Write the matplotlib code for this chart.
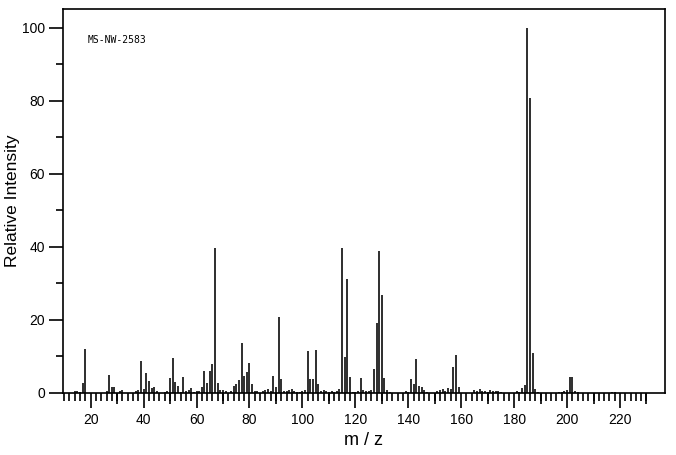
import matplotlib
matplotlib.use("Agg")
import matplotlib.pyplot as plt
import numpy as np

mz = [14, 15, 16, 17, 18, 26, 27, 28, 29, 31, 32, 37, 38, 39, 40, 41, 42, 43, 44, 45,
      48, 49, 50, 51, 52, 53, 54, 55, 56, 57, 58, 59, 60, 61, 62, 63, 64, 65, 66, 67,
      68, 69, 70, 71, 73, 74, 75, 76, 77, 78, 79, 80, 81, 82, 83,
      85, 86, 87, 88, 89, 90, 91, 92, 93, 94, 95, 96, 97, 98, 99, 100, 101, 102, 103,
      104, 105, 106, 107, 108, 109, 110, 111, 112, 113, 114, 115, 116, 117, 118, 119,
      120, 121, 122, 123, 124, 125, 126, 127, 128, 129, 130, 131, 132, 133,
      139, 140, 141, 142, 143, 144, 145, 146, 147, 151, 152, 153, 154, 155, 156, 157,
      158, 159, 165, 166, 167, 168, 169, 170, 171, 172, 173, 174, 175, 181, 182, 183,
      184, 185, 186, 187, 188, 189, 197, 198, 199, 200, 201, 202, 203, 204, 217, 218]
intensity = [0.5, 0.5, 0.4, 2.7, 12.0, 0.5, 4.8, 1.6, 1.6, 0.5, 0.7, 0.5, 0.9, 8.7, 1.0, 5.5, 3.2, 1.3, 1.6, 0.5,
             0.4, 0.5, 4.1, 9.6, 3.0, 1.9, 0.3, 4.4, 0.5, 0.7, 1.5, 0.3, 0.5, 0.5, 1.6, 6.0, 2.7, 6.0, 7.9, 39.6,
             2.7, 0.7, 0.7, 0.5, 0.5, 1.8, 2.4, 3.5, 13.7, 4.7, 5.8, 8.2, 2.4, 0.5, 0.5,
             0.5, 0.7, 1.0, 0.5, 4.6, 1.6, 20.8, 3.7, 0.5, 0.5, 0.7, 1.0, 0.5, 0.3, 0.3, 0.5, 0.7, 11.5, 3.7,
             3.7, 11.7, 2.4, 0.5, 0.7, 0.5, 0.3, 0.5, 0.3, 0.5, 1.0, 39.7, 9.9, 31.2, 4.3, 0.3,
             0.3, 0.5, 4.0, 0.7, 0.5, 0.5, 0.7, 6.5, 19.2, 38.9, 26.8, 4.0, 0.7, 0.3,
             0.5, 0.3, 3.7, 2.6, 9.2, 1.8, 1.6, 0.7, 0.3, 0.5, 0.7, 1.0, 0.5, 1.3, 1.0, 7.0,
             10.3, 1.6, 0.7, 0.5, 1.0, 0.5, 0.5, 0.3, 0.7, 0.5, 0.5, 0.5, 0.3, 0.5, 0.3, 1.3,
             2.1, 100.0, 80.8, 10.9, 1.0, 0.3, 0.3, 0.3, 0.5, 0.7, 4.3, 4.3, 0.5, 0.3, 0.3, 0.3]

x_major = list(range(20, 221, 20))
x_medium = list(range(30, 231, 20))
x_minor = list(range(10, 231, 2))
y_major = list(range(0, 101, 20))
y_minor = list(range(10, 100, 20))

plt.rcParams["font.family"] = ["Liberation Sans", "DejaVu Sans"]

fig = plt.figure(figsize=(6.76, 4.55), dpi=100)
ax = fig.add_axes([63 / 676, 1 - 393 / 455, (665 - 63) / 676, (393 - 9) / 455])

ax.vlines(mz, 0, intensity, colors="black", linewidth=1.15)

ax.set_xlim(9.55, 237.0)
ax.set_ylim(0, 105.2)

ax.set_xticks(x_major)
ax.set_xticks(x_minor, minor=True)
ax.set_yticks(y_major)
ax.set_yticks(y_minor, minor=True)
ax.tick_params(axis="x", which="major", direction="out", length=10.5, width=1.2, labelsize=10, pad=4)
ax.tick_params(axis="x", which="minor", direction="out", length=5.5, width=1.2)
ax.tick_params(axis="y", which="major", direction="out", length=10, width=1.2, labelsize=10, pad=3)
ax.tick_params(axis="y", which="minor", direction="out", length=5, width=1.2)

sec = ax.secondary_xaxis("bottom")
sec.set_xticks(x_medium)
sec.tick_params(axis="x", direction="out", length=8, width=1.2, labelbottom=False)
sec.spines["bottom"].set_visible(False)

for s in ax.spines.values():
    s.set_linewidth(1.2)

ax.set_xlabel("m / z", fontsize=13)
ax.xaxis.set_label_coords(0.5, -0.102)
ax.set_ylabel("Relative Intensity", fontsize=12.5)
ax.yaxis.set_label_coords(-0.071, 0.5)

ax.text(0.0415, 0.919, "MS-NW-2583", transform=ax.transAxes, fontsize=7,
        family="DejaVu Sans Mono", va="center", ha="left")

fig.savefig("out.png", dpi=100)
